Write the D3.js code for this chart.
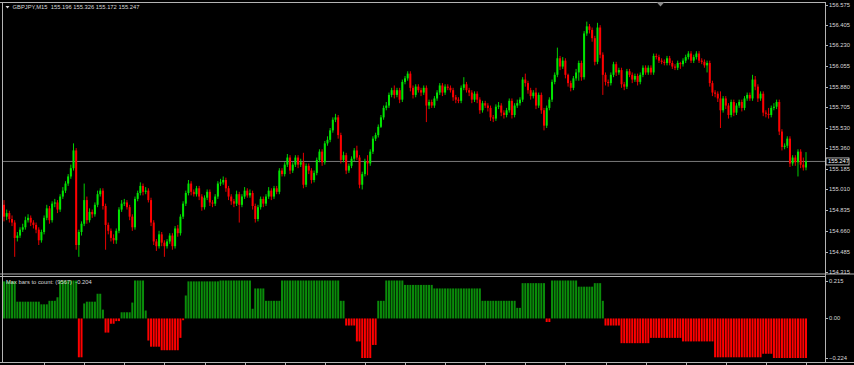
<!DOCTYPE html>
<html>
<head>
<meta charset="utf-8">
<script src="https://d3js.org/d3.v7.min.js"></script>
<style>
  body { margin: 0; background: #000; }
  svg { display: block; font-family: "Liberation Sans", Arial, sans-serif; }
</style>
</head>
<body>
<svg id="chart" width="854" height="365"></svg>
<script>
// GBPJPY M15 bars, oldest first; open of each bar is the previous close
const firstOpen = 154.88;
const closes = [
  154.78,154.81,154.76,154.73,154.60,154.62,154.67,154.69,154.75,154.77,
  154.73,154.71,154.67,154.58,154.65,154.77,154.85,154.75,154.89,154.90,
  154.84,154.95,155.00,155.06,155.12,155.19,155.34,154.54,154.65,
  154.72,154.92,154.75,154.82,154.80,154.88,154.97,155.00,154.87,154.71,
  154.66,154.60,154.58,154.66,154.84,154.89,154.90,154.86,154.78,154.69,
  154.93,154.98,155.04,154.99,155.00,154.92,154.73,154.57,154.53,154.63,
  154.56,154.53,154.57,154.62,154.53,154.68,154.64,154.78,154.89,154.98,
  155.06,154.99,154.97,155.02,
  154.95,154.86,154.94,154.99,154.90,154.89,154.95,155.06,155.07,155.09,
  155.02,154.95,154.91,154.89,154.97,154.88,154.95,155.00,154.96,154.98,
  154.87,154.76,154.86,154.93,154.89,154.95,155.00,154.95,155.02,154.99,
  155.17,155.14,155.22,155.28,155.17,155.22,155.28,155.22,155.24,
  155.05,155.21,155.17,155.09,155.15,155.26,
  155.33,155.24,155.40,155.43,155.51,155.60,155.62,155.47,155.26,155.30,
  155.17,155.21,155.27,155.34,155.28,155.05,155.14,155.25,
  155.23,155.33,155.44,155.47,155.54,155.62,155.70,155.72,
  155.81,155.85,155.81,155.85,155.77,155.92,155.95,155.99,155.87,
  155.81,155.88,155.85,155.83,155.87,155.72,155.75,155.72,155.78,155.83,
  155.89,155.83,155.88,155.87,155.85,155.79,155.77,155.76,155.87,155.90,
  155.85,155.83,155.77,155.82,155.77,155.68,155.74,155.72,155.70,155.62,
  155.61,155.71,155.72,155.66,155.64,155.68,155.76,155.64,155.72,155.74,
  155.77,155.94,155.91,155.85,155.80,155.83,155.72,155.81,
  155.68,155.55,155.70,155.77,155.92,155.98,156.12,156.05,156.10,
  155.98,155.91,155.87,155.95,156.00,156.08,155.96,156.33,
  156.39,156.36,156.29,156.09,156.38,156.15,155.98,155.92,155.91,155.98,
  156.07,156.00,156.02,155.90,155.88,156.01,155.98,155.94,155.97,155.92,155.98,156.04,
  156.00,156.04,156.00,156.14,156.13,156.10,156.09,156.08,156.12,156.08,
  156.05,156.04,156.08,156.07,156.10,156.13,156.16,156.10,156.13,
  156.16,156.10,156.09,156.06,156.08,155.91,155.83,155.82,155.78,
  155.68,155.78,155.72,155.64,155.75,155.66,155.72,155.75,155.70,155.78,
  155.81,155.78,155.94,155.88,155.78,155.82,155.66,155.65,
  155.64,155.70,155.71,155.75,155.50,155.37,155.38,155.44,155.23,155.28,
  155.24,155.33,155.22,155.196,155.247
];
const highs = [
  154.92,154.84,154.83,154.79,154.75,154.65,154.69,154.72,154.78,154.80,
  154.79,154.75,154.73,154.69,154.67,154.79,154.88,154.87,154.91,154.93,
  154.92,154.97,155.03,155.08,155.14,155.22,155.40,155.36,154.67,
  154.74,155.06,154.95,154.85,154.84,154.90,155.00,155.02,155.02,154.89,
  154.73,154.68,154.63,154.68,154.86,154.92,154.93,154.92,154.88,154.80,
  154.95,155.00,155.07,155.06,155.03,155.02,154.94,154.75,154.59,154.66,
  154.65,154.58,154.59,154.64,154.64,154.70,154.71,154.80,154.91,155.00,
  155.09,155.08,155.01,155.04,
  155.04,154.97,154.96,155.01,155.01,154.92,154.97,155.08,155.10,155.12,
  155.11,155.04,154.97,154.93,155.00,154.99,154.97,155.03,155.02,155.01,
  155.00,154.89,154.88,154.95,154.95,154.97,155.03,155.02,155.04,155.04,
  155.19,155.19,155.24,155.31,155.30,155.24,155.30,155.30,155.27,
  155.32,155.23,155.23,155.19,155.17,155.28,
  155.35,155.35,155.42,155.46,155.53,155.62,155.65,155.64,155.49,155.33,
  155.32,155.23,155.29,155.36,155.38,155.30,155.16,155.27,
  155.30,155.35,155.46,155.49,155.56,155.64,155.72,155.75,
  155.83,155.87,155.89,155.87,155.87,155.94,155.97,156.01,156.01,
  155.89,155.90,155.90,155.87,155.89,155.89,155.77,155.77,155.80,155.85,
  155.91,155.91,155.90,155.90,155.89,155.87,155.81,155.79,155.89,155.96,
  155.92,155.87,155.85,155.84,155.84,155.79,155.76,155.76,155.74,155.72,
  155.64,155.73,155.75,155.74,155.68,155.70,155.78,155.78,155.74,155.77,
  155.79,155.96,155.99,155.93,155.87,155.85,155.87,155.83,
  155.83,155.70,155.72,155.79,155.94,156.00,156.21,156.14,156.13,
  156.12,155.99,155.93,155.97,156.03,156.10,156.10,156.35,
  156.43,156.41,156.38,156.31,156.42,156.40,156.17,156.00,155.94,156.00,
  156.09,156.09,156.04,156.04,155.92,156.03,156.03,156.00,155.99,155.99,156.00,156.06,
  156.06,156.06,156.06,156.16,156.16,156.15,156.12,156.11,156.14,156.14,
  156.10,156.07,156.10,156.09,156.12,156.15,156.18,156.18,156.15,
  156.18,156.18,156.12,156.11,156.10,156.10,155.93,155.85,155.84,
  155.84,155.80,155.80,155.74,155.77,155.77,155.74,155.77,155.77,155.80,
  155.83,155.83,155.98,155.97,155.90,155.84,155.84,155.68,
  155.70,155.72,155.74,155.77,155.77,155.52,155.40,155.46,155.46,155.30,
  155.30,155.35,155.35,155.28,155.326
];
const lows = [
  154.74,154.75,154.73,154.70,154.44,154.57,154.60,154.65,154.67,154.73,
  154.70,154.68,154.64,154.54,154.56,154.63,154.75,154.72,154.73,154.86,
  154.81,154.82,154.93,154.98,155.04,155.10,155.17,154.50,154.44,
  154.62,154.70,154.72,154.73,154.77,154.78,154.86,154.95,154.84,154.50,
  154.63,154.57,154.55,154.55,154.64,154.82,154.87,154.84,154.75,154.66,
  154.67,154.91,154.96,154.96,154.97,154.90,154.70,154.54,154.49,154.51,
  154.53,154.44,154.51,154.55,154.50,154.51,154.61,154.62,154.76,154.87,
  154.96,154.96,154.95,154.95,
  154.92,154.83,154.84,154.92,154.87,154.86,154.87,154.93,155.04,155.05,
  154.99,154.92,154.88,154.86,154.87,154.73,154.86,154.93,154.94,154.94,
  154.84,154.73,154.74,154.84,154.86,154.87,154.93,154.92,154.93,154.97,
  154.97,155.12,155.12,155.20,155.14,155.15,155.20,155.19,155.20,
  155.02,155.03,155.14,155.06,155.07,155.13,
  155.24,155.21,155.22,155.38,155.41,155.49,155.58,155.44,155.23,155.24,
  155.14,155.15,155.19,155.25,155.26,155.02,155.01,155.12,
  155.13,155.21,155.31,155.42,155.45,155.53,155.60,155.68,
  155.70,155.79,155.78,155.79,155.74,155.75,155.90,155.93,155.84,
  155.78,155.79,155.83,155.80,155.81,155.58,155.69,155.70,155.70,155.76,
  155.81,155.80,155.81,155.85,155.83,155.76,155.74,155.74,155.74,155.85,
  155.83,155.80,155.74,155.75,155.74,155.65,155.66,155.70,155.67,155.59,
  155.58,155.59,155.69,155.63,155.61,155.62,155.66,155.61,155.62,155.70,
  155.72,155.75,155.88,155.82,155.77,155.78,155.69,155.70,
  155.65,155.51,155.53,155.68,155.75,155.90,155.96,156.02,156.03,
  155.95,155.88,155.84,155.85,155.93,155.93,155.93,155.94,
  156.31,156.33,156.26,156.06,156.07,156.12,155.81,155.89,155.88,155.89,
  155.96,155.97,155.98,155.87,155.85,155.86,155.96,155.91,155.92,155.89,155.90,155.96,
  155.98,155.98,155.98,155.98,156.11,156.08,156.07,156.06,156.06,156.06,
  156.03,156.02,156.02,156.03,156.05,156.08,156.11,156.08,156.08,
  156.11,156.08,156.07,156.04,156.00,155.88,155.80,155.79,155.75,
  155.53,155.66,155.69,155.61,155.62,155.63,155.64,155.70,155.67,155.68,
  155.76,155.76,155.76,155.85,155.75,155.76,155.63,155.62,
  155.61,155.62,155.68,155.69,155.47,155.34,155.35,155.36,155.20,155.21,
  155.21,155.12,155.19,155.17,155.172
];
const priceTicks = [156.575,156.405,156.230,156.055,155.880,155.705,155.530,155.360,155.185,155.010,154.835,154.660,154.485,154.315];
const priceMin = 154.315, priceMax = 156.575;
const bidPrice = 155.247;
const symbolTitle = "GBPJPY,M15";
const lastBar = [155.196, 155.326, 155.172, 155.247];

// indicator histogram, stored as runs: number of bars and value
const histRunBars = [5,9,3,3,1,7,2,1,4,2, 1,2,2,2,4,1,4,1,1,4, 7,1,1,1,12,12,1,4,6,22,
  2,4,2,4,2,3,7,11,18,13, 2,9,2,10,6,3,1,6,11,12, 12,18,4,13];
const histRunValues = [0.21,0.095,0.08,0.10,0.12,0.215,-0.22,0.085,0.095,0.14,
  0.05,-0.08,-0.03,-0.015,0.035,0.09,0.215,0.045,-0.125,-0.16,
  -0.18,-0.11,-0.01,0.13,0.21,0.215,0.055,0.17,0.10,0.215,
  0.10,-0.04,-0.13,-0.224,-0.15,0.10,0.215,0.19,0.17,0.10,
  0.06,0.20,-0.02,0.215,0.18,0.20,0.10,-0.04,-0.14,-0.11,
  -0.13,-0.22,-0.20,-0.224];
const histTicks = [0.215, 0, -0.224];
const histLabel = "Max bars to count: (9567)";
const histCurrent = "-0.204";
const timeTickEvery = 15;

const svg = d3.select("#chart");
const frame = "#b4b4b4";
const textCol = "#d8d8d8";
const upCol = "#00e600", downCol = "#ff0000";

// layout
const axisX = 825;
const mainTop = 2, mainBottom = 273.5, subTop = 276.5, subBottom = 362;

const n = closes.length;
const x = d3.scaleLinear().domain([0, n - 1]).range([4, 806]);
const y = d3.scaleLinear().domain([priceMin, priceMax]).range([271.6, 4.5]);
const yh = d3.scaleLinear().domain([-0.224, 0.215]).range([358, 280.5]);

const candles = closes.map((c, i) => {
  const o = i ? closes[i - 1] : firstOpen;
  return { i, o, c, h: Math.max(highs[i], o, c), l: Math.min(lows[i], o, c) };
});
const histValues = histRunBars.flatMap((k, j) => Array(k).fill(histRunValues[j]));

svg.append("rect").attr("width", 854).attr("height", 365).attr("fill", "#000");

svg.append("clipPath").attr("id", "mainclip").append("rect")
  .attr("x", 2).attr("y", mainTop).attr("width", axisX - 2).attr("height", mainBottom - mainTop);
svg.append("clipPath").attr("id", "subclip").append("rect")
  .attr("x", 2).attr("y", subTop).attr("width", axisX - 2).attr("height", subBottom - subTop);

// bid line
svg.append("line")
  .attr("x1", 2).attr("x2", axisX).attr("y1", y(bidPrice)).attr("y2", y(bidPrice))
  .attr("stroke", "#7a7a7a").attr("stroke-width", 1);

// candles
const cg = svg.append("g").attr("clip-path", "url(#mainclip)");
const col = d => d.c >= d.o ? upCol : downCol;
cg.selectAll("line.wick").data(candles).join("line")
  .attr("class", "wick")
  .attr("x1", d => x(d.i)).attr("x2", d => x(d.i))
  .attr("y1", d => y(d.h)).attr("y2", d => y(d.l))
  .attr("stroke", col).attr("stroke-width", 0.9);
cg.selectAll("rect.body").data(candles).join("rect")
  .attr("class", "body")
  .attr("x", d => x(d.i) - 1).attr("width", 2)
  .attr("y", d => y(Math.max(d.o, d.c)))
  .attr("height", d => Math.max(1, Math.abs(y(d.o) - y(d.c))))
  .attr("fill", col);

// histogram
const hg = svg.append("g").attr("clip-path", "url(#subclip)");
hg.selectAll("rect").data(histValues).join("rect")
  .attr("x", (v, i) => x(i) - 1).attr("width", 2)
  .attr("y", v => yh(Math.max(0, v)))
  .attr("height", v => Math.abs(yh(v) - yh(0)))
  .attr("fill", v => v >= 0 ? "#0a8c0a" : "#ff0000");

// frames
const fr = svg.append("g").attr("stroke", frame).attr("fill", "none").attr("stroke-width", 1);
fr.append("line").attr("x1", 0).attr("x2", axisX).attr("y1", 2.5).attr("y2", 2.5);
fr.append("line").attr("x1", 2.5).attr("x2", 2.5).attr("y1", 2).attr("y2", subBottom);
fr.append("line").attr("x1", axisX + 0.5).attr("x2", axisX + 0.5).attr("y1", 2).attr("y2", subBottom);
fr.append("line").attr("x1", 0).attr("x2", 854).attr("y1", mainBottom + 0.5).attr("y2", mainBottom + 0.5);
fr.append("line").attr("x1", 0).attr("x2", axisX).attr("y1", subTop).attr("y2", subTop);
fr.append("line").attr("x1", 0).attr("x2", 854).attr("y1", subBottom + 0.5).attr("y2", subBottom + 0.5);

// price axis
const pa = svg.append("g");
pa.selectAll("line").data(priceTicks).join("line")
  .attr("x1", axisX).attr("x2", axisX + 3)
  .attr("y1", d => Math.round(y(d)) + 0.5).attr("y2", d => Math.round(y(d)) + 0.5)
  .attr("stroke", frame);
pa.selectAll("text").data(priceTicks).join("text")
  .attr("x", axisX + 4).attr("y", d => y(d) + 2)
  .attr("fill", textCol).attr("font-size", 5.8)
  .text(d => d3.format(".3f")(d));

// bid label
const by = y(bidPrice);
svg.append("rect").attr("x", axisX + 1).attr("y", by - 3.5).attr("width", 23).attr("height", 7)
  .attr("fill", "#000").attr("stroke", "#e0e0e0").attr("stroke-width", 0.8);
svg.append("text").attr("x", axisX + 3).attr("y", by + 2).attr("fill", "#ffffff").attr("font-size", 5.8)
  .text(d3.format(".3f")(bidPrice));

// indicator axis
const ha = svg.append("g");
ha.selectAll("line").data(histTicks).join("line")
  .attr("x1", axisX).attr("x2", axisX + 3)
  .attr("y1", d => Math.round(yh(d)) + 0.5).attr("y2", d => Math.round(yh(d)) + 0.5)
  .attr("stroke", frame);
ha.selectAll("text").data(histTicks).join("text")
  .attr("x", axisX + 4).attr("y", d => yh(d) + 2)
  .attr("fill", textCol).attr("font-size", 5.8)
  .text(d => d === 0 ? "0.00" : d3.format(".3f")(d));

// time ticks along the bottom
const tt = d3.range(timeTickEvery, n, timeTickEvery);
svg.append("g").selectAll("line").data(tt).join("line")
  .attr("x1", d => Math.round(x(d)) + 0.5).attr("x2", d => Math.round(x(d)) + 0.5)
  .attr("y1", subBottom).attr("y2", 365)
  .attr("stroke", frame);

// titles
svg.append("path").attr("d", "M5.5,6 L9.5,6 L7.5,8.5 Z").attr("fill", textCol);
svg.append("text").attr("x", 12.5).attr("y", 9.3).attr("fill", textCol).attr("font-size", 5.8)
  .style("white-space", "pre")
  .text(symbolTitle + "  " + lastBar.map(d3.format(".3f")).join(" "));
svg.append("text").attr("x", 6).attr("y", 284).attr("fill", textCol).attr("font-size", 5.8)
  .style("white-space", "pre")
  .text(histLabel + "  " + histCurrent);

// chart shift marker
svg.append("path").attr("d", "M656.5,2 L664.5,2 L660.5,6.5 Z").attr("fill", "#8c8c8c");
</script>
</body>
</html>
